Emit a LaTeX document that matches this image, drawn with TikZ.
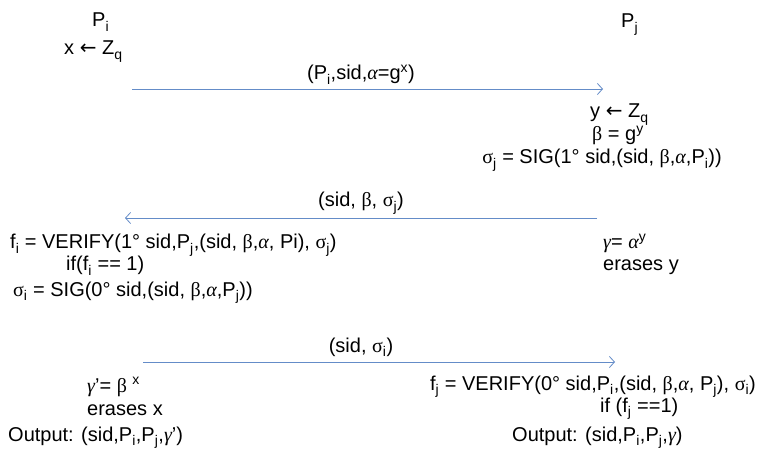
\documentclass[tikz,border=0pt]{standalone}
\usepackage{fontspec}
\setmainfont{Liberation Sans}
\newfontfamily\grfont{Liberation Serif}
\newfontfamily\arfont{DejaVu Sans}
\newcommand\gr[1]{{\grfont #1}}
\newcommand\gri[1]{{\grfont\itshape #1}}
\newcommand\larr{{\arfont ←}}
\newcommand\sbs[1]{\raisebox{-1.5pt}{\textsubscript{#1}}}
\newcommand\sps[1]{\textsuperscript{#1}}
\usetikzlibrary{arrows.meta}
\definecolor{arrowblue}{RGB}{100,140,200}
\begin{document}
\begin{tikzpicture}[x=1pt,y=-1pt,
  txt/.style={inner sep=0pt, font=\fontsize{20}{23}\selectfont},
  msg/.style={draw=arrowblue, line width=0.8pt, -{Straight Barb[length=5pt,width=11pt]}}]
\fill[white] (0,0) rectangle (758,457);
\useasboundingbox (0,0) rectangle (758,457);
% parties
\node[txt,anchor=base west] (pi) at (92,27) {P\sbs{i}};
\node[txt,anchor=base west] (pj) at (621,28) {P\sbs{j}};
\node[txt,anchor=base west] (xz) at (64,55) {x \larr{} Z\sbs{q}};
% message 1
\coordinate (a1s) at (132,89);
\coordinate (a1e) at (603,89);
\draw[msg] (a1s) -- (a1e);
\node[txt,anchor=base] (m1) at (361,80) {(P\sbs{i},sid,\gri{α}=g\sps{x})};
% Pj computations
\node[txt,anchor=base west] (yz) at (590,118) {y \larr{} Z\sbs{q}};
\node[txt,anchor=base west] (beta) at (592,141) {\gr{β} = g\sps{y}};
\node[txt,anchor=base east] (sigj) at (722,164) {\gr{σ}\sbs{j} = SIG(1° sid,(sid, \gr{β},\gri{α},P\sbs{i}))};
% message 2
\coordinate (a2s) at (597,218);
\coordinate (a2e) at (125,218);
\draw[msg] (a2s) -- (a2e);
\node[txt,anchor=base] (m2) at (361,207) {(sid, \gr{β}, \gr{σ}\sbs{j})};
% Pi verification
\node[txt,anchor=base west] (fi) at (10,249) {f\sbs{i} = VERIFY(1° sid,P\sbs{j},(sid, \gr{β},\gri{α}, Pi), \gr{σ}\sbs{j})};
\node[txt,anchor=base west] (ifi) at (66,271) {if(f\sbs{i} == 1)};
\node[txt,anchor=base west] (sigi) at (13,296) {\gr{σ}\sbs{i} = SIG(0° sid,(sid, \gr{β},\gri{α},P\sbs{j}))};
\node[txt,anchor=base west] (gam) at (603,249) {\gri{γ}= \gri{α}\sps{y}};
\node[txt,anchor=base west] (ery) at (603,271) {erases y};
% message 3
\coordinate (a3s) at (143,362);
\coordinate (a3e) at (615,362);
\draw[msg] (a3s) -- (a3e);
\node[txt,anchor=base] (m3) at (361,352) {(sid, \gr{σ}\sbs{i})};
% final
\node[txt,anchor=base west] (gamp) at (87,392) {\gri{γ}'= \gr{β} \sps{x}};
\node[txt,anchor=base west] (erx) at (87,415) {erases x};
\node[txt,anchor=base west] (outi) at (8,441) {Output: (sid,P\sbs{i},P\sbs{j},\gri{γ}')};
\node[txt,anchor=base east] (fj) at (756,390) {f\sbs{j} = VERIFY(0° sid,P\sbs{i},(sid, \gr{β},\gri{α}, P\sbs{j}), \gr{σ}\sbs{i})};
\node[txt,anchor=base west] (ifj) at (600,412) {if (f\sbs{j} ==1)};
\node[txt,anchor=base west] (outj) at (512,441) {Output: (sid,P\sbs{i},P\sbs{j},\gri{γ})};
\end{tikzpicture}
\end{document}
